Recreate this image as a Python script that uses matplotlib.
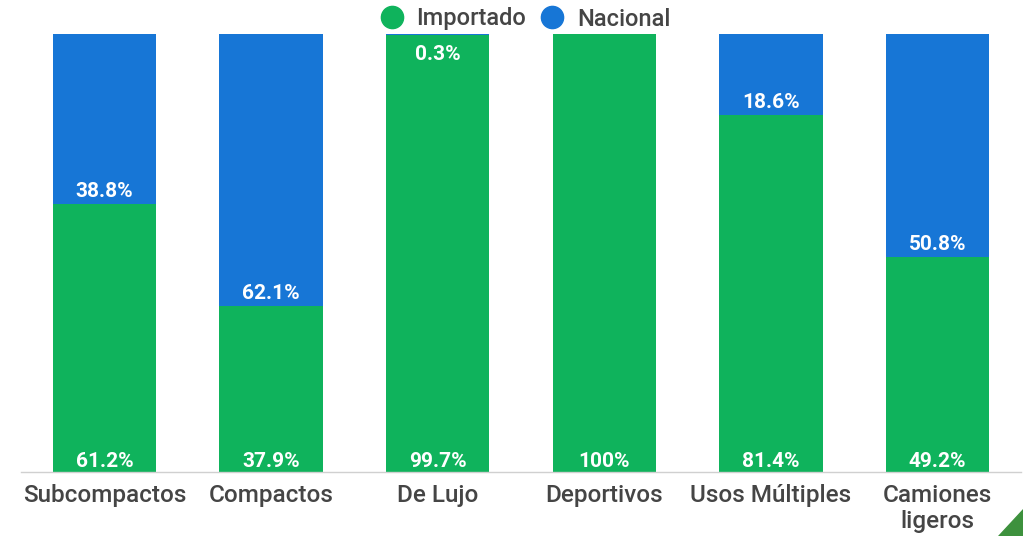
import numpy as np
import matplotlib
matplotlib.use('Agg')
import matplotlib.pyplot as plt
from matplotlib.patches import Polygon
from matplotlib.lines import Line2D

categorias = ['Subcompactos', 'Compactos', 'De Lujo', 'Deportivos',
              'Usos Múltiples', 'Camiones\nligeros']
importado = [61.2, 37.9, 99.7, 100, 81.4, 49.2]
nacional = [38.8, 62.1, 0.3, 0, 18.6, 50.8]

verde = '#0fb35c'
azul = '#1776d6'
gris = '#454545'

plt.rcParams['font.family'] = ['Roboto', 'DejaVu Sans']

fig = plt.figure(figsize=(10.23, 5.36), dpi=100)
ax = fig.add_axes([21 / 1023, 64 / 536, 1000 / 1023, 438 / 536])

x = np.arange(len(categorias))
ancho = 0.62
ax.bar(x, importado, ancho, color=verde, label='Importado')
ax.bar(x, nacional, ancho, bottom=importado, color=azul, label='Nacional')

def etiqueta(v):
    return '%g%%' % v

# etiquetas blancas en la base de cada segmento
for i in range(len(categorias)):
    if importado[i] > 0:
        ax.annotate(etiqueta(importado[i]), (x[i], 0), xytext=(0, 7.5),
                    textcoords='offset points', ha='center', va='center',
                    color='white', fontsize=15, fontweight='bold')
    if nacional[i] >= 3:
        ax.annotate(etiqueta(nacional[i]), (x[i], importado[i]), xytext=(0, 9),
                    textcoords='offset points', ha='center', va='center',
                    color='white', fontsize=15, fontweight='bold')
    elif nacional[i] > 0:
        # segmento muy delgado: la etiqueta va debajo del borde
        ax.annotate(etiqueta(nacional[i]), (x[i], importado[i]), xytext=(0, -14),
                    textcoords='offset points', ha='center', va='center',
                    color='white', fontsize=15, fontweight='bold')

ax.set_xlim(-0.5, len(categorias) - 0.5)
ax.set_ylim(0, 100)
ax.set_xticks(x)
ax.set_xticklabels(categorias, fontsize=17.5, color=gris, linespacing=1.2,
                   fontweight='medium')
ax.tick_params(axis='x', length=0, pad=8.5)
ax.set_yticks([])
for s in ['top', 'right', 'left']:
    ax.spines[s].set_visible(False)
ax.spines['bottom'].set_color('#d0d0d0')
ax.spines['bottom'].set_linewidth(1)

# leyenda con marcadores circulares
marcas = [Line2D([], [], marker='o', ls='', color=verde, markersize=16),
          Line2D([], [], marker='o', ls='', color=azul, markersize=16)]
fig.legend(handles=marcas, labels=['Importado', 'Nacional'],
           loc='center', bbox_to_anchor=(525 / 1023, 1 - 19 / 536),
           ncol=2, frameon=False, handlelength=1.0,
           handletextpad=0.55, columnspacing=0.6, labelcolor=gris,
           prop={'size': 17, 'weight': 'medium'})

# esquina verde decorativa
fig.patches.append(Polygon([(998 / 1023, 0), (1023 / 1023, 0),
                            (1023 / 1023, 27 / 536)],
                           closed=True, transform=fig.transFigure,
                           color='#3d913d', zorder=5))

fig.savefig('out.png', dpi=100)
